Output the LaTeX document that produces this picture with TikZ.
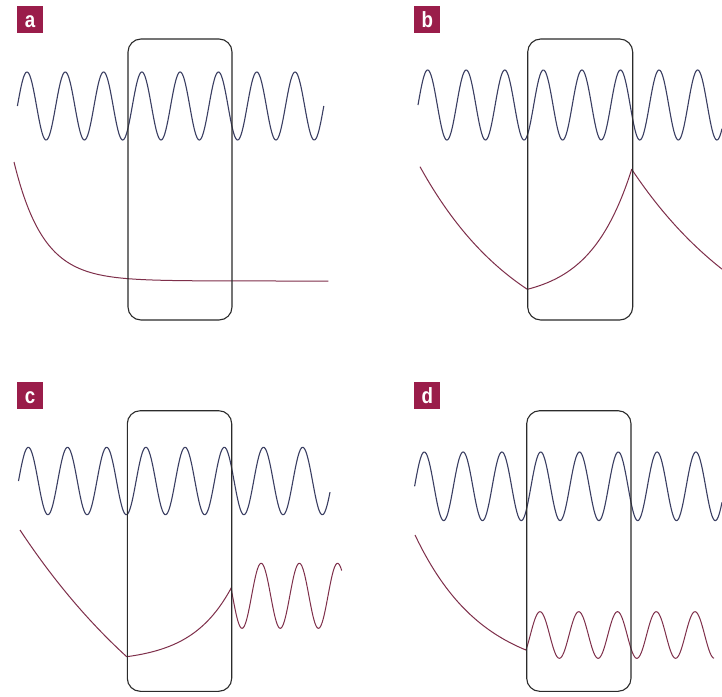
\documentclass[tikz,border=0pt]{standalone}
\usepackage{fontspec}
\setmainfont{Liberation Sans}
\definecolor{wavecol}{HTML}{3A3E62}
\definecolor{redcol}{HTML}{7E2F4A}
\definecolor{tagcol}{HTML}{9A1D4A}
\definecolor{framecol}{HTML}{2B2B2B}
\tikzset{
  tagbox/.style={fill=tagcol, text=white, minimum width=26pt, minimum height=27pt,
    inner sep=0pt, text height=16pt, text depth=0pt,
    font=\bfseries\fontsize{22}{22}\selectfont},
  framebox/.style={draw=framecol, line width=1.1pt, rounded corners=13pt},
  bluewave/.style={draw=wavecol, line width=1.1pt, line join=round},
  redwave/.style={draw=redcol, line width=1.0pt, line join=round},
}
\begin{document}
\begin{tikzpicture}[x=1pt,y=-1pt]
\useasboundingbox[fill=white] (0,0) rectangle (722,696);

% ---- labels
\node[tagbox] (la) at (30,19.5) {\scalebox{0.85}[1]{a}};
\node[tagbox] (lb) at (427.3,19.5) {\scalebox{0.85}[1]{b}};
\node[tagbox] (lc) at (30,395) {\scalebox{0.85}[1]{c}};
\node[tagbox] (ld) at (427.3,395) {\scalebox{0.85}[1]{d}};

% ---- panel a
\draw[bluewave] plot[domain=17.4:323.8, samples=400] (\x, {106 - 34*sin((\x-17.4)*(360/38.3))});
\draw[redwave] plot[domain=14:328.3, samples=200] (\x, {281 - 119*exp(-(\x-14)/29)});
\draw[framebox] (128,39) rectangle (232,320);

% ---- panel b
\draw[bluewave] plot[domain=418:722, samples=400] (\x, {105 - 35*sin((\x-418)*(360/38.57))});
\draw[redwave] plot[domain=420:527.3, samples=120] (\x, {289.3 - 122.6*(exp((527.3-\x)/107.3)-1)/(exp(1)-1)})
  -- plot[domain=527.3:631.7, samples=120] (\x, {289.3 - 120*(exp(2.5*(\x-527.3)/104.4)-1)/(exp(2.5)-1)})
  -- plot[domain=631.7:722, samples=100] (\x, {169.3 + 210*(1-exp(-(\x-631.7)/140))});
\draw[framebox] (527.7,39) rectangle (632.7,320);

% ---- panel c
\draw[bluewave] plot[domain=18.5:330, samples=400] (\x, {481 - 33.7*sin((\x-18.5)*(360/39.2))});
\draw[redwave] plot[domain=20:126.7, samples=120] (\x, {656.7 - 126.7*(exp(0.5*(126.7-\x)/106.7)-1)/(exp(0.5)-1)})
  -- plot[domain=126.7:231, samples=120] (\x, {656.7 - 68.4*(exp(2.6*(\x-126.7)/104.3)-1)/(exp(2.6)-1)})
  -- plot[domain=231:341.7, samples=200] (\x, {595.8 + 32.5*sin((\x-232.5)*(360/38.2))});
\draw[framebox] (127.3,410.7) rectangle (231.7,691.3);

% ---- panel d
\draw[bluewave] plot[domain=414.6:722, samples=400] (\x, {486.3 - 34.3*sin((\x-414.6)*(360/38.8))});
\draw[redwave] plot[domain=415:526, samples=120] (\x, {535 + 143*(1-exp(-(\x-415)/68))})
  -- plot[domain=526:714, samples=300] (\x, {635 - 23.3*sin((\x-530.3)*(360/38.75))});
\draw[framebox] (526.7,410.7) rectangle (631,691.3);
\end{tikzpicture}
\end{document}
